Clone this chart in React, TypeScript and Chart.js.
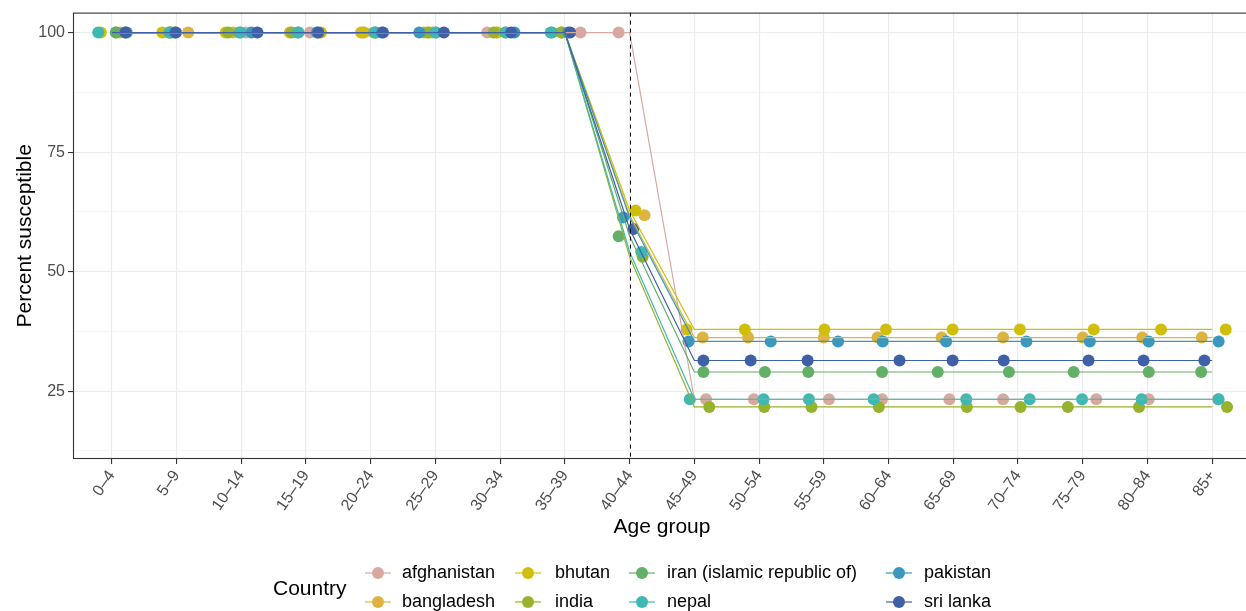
import React, { useEffect, useRef } from "react";
import { Chart, registerables } from "chart.js";

Chart.register(...registerables);

const ageGroups = ["0–4", "5–9", "10–14", "15–19", "20–24", "25–29", "30–34", "35–39", "40–44", "45–49", "50–54", "55–59", "60–64", "65–69", "70–74", "75–79", "80–84", "85+"];
const yTickValues = [12.5, 25, 37.5, 50, 62.5, 75, 87.5, 100];

const countries = ["afghanistan", "bangladesh", "bhutan", "india", "iran (islamic republic of)", "nepal", "pakistan", "sri lanka"];
const countryColors = ["#D8A99E", "#DDB441", "#D1BE08", "#97B22C", "#63AF67", "#3EB8B3", "#3A98BF", "#3F5FA6"];

// percent susceptible by age group
const afghanistanValues = [100, 100, 100, 100, 100, 100, 100, 100, 100, 23.3, 23.3, 23.3, 23.3, 23.3, 23.3, 23.3, 23.3, 23.3];
const bangladeshValues = [100, 100, 100, 100, 100, 100, 100, 100, 61.8, 36.2, 36.2, 36.2, 36.2, 36.2, 36.2, 36.2, 36.2, 36.2];
const bhutanValues = [100, 100, 100, 100, 100, 100, 100, 100, 62.8, 37.9, 37.9, 37.9, 37.9, 37.9, 37.9, 37.9, 37.9, 37.9];
const indiaValues = [100, 100, 100, 100, 100, 100, 100, 100, 53.1, 21.7, 21.7, 21.7, 21.7, 21.7, 21.7, 21.7, 21.7, 21.7];
const iranValues = [100, 100, 100, 100, 100, 100, 100, 100, 57.4, 29.0, 29.0, 29.0, 29.0, 29.0, 29.0, 29.0, 29.0, 29.0];
const nepalValues = [100, 100, 100, 100, 100, 100, 100, 100, 54.1, 23.3, 23.3, 23.3, 23.3, 23.3, 23.3, 23.3, 23.3, 23.3];
const pakistanValues = [100, 100, 100, 100, 100, 100, 100, 100, 61.3, 35.4, 35.4, 35.4, 35.4, 35.4, 35.4, 35.4, 35.4, 35.4];
const sriLankaValues = [100, 100, 100, 100, 100, 100, 100, 100, 58.9, 31.4, 31.4, 31.4, 31.4, 31.4, 31.4, 31.4, 31.4, 31.4];

// horizontal jitter of the points (in age-group units)
const afghanistanJitter = [0.20, -0.12, 0.07, 0.06, -0.10, -0.05, -0.20, 0.24, -0.17, 0.18, -0.08, 0.08, -0.10, -0.06, -0.23, 0.21, 0.02, 0.09];
const bangladeshJitter = [0.13, 0.18, -0.13, -0.25, -0.15, -0.18, -0.06, -0.04, 0.23, 0.13, -0.17, 0.0, -0.17, -0.18, -0.23, 0.0, -0.08, -0.16];
const bhutanJitter = [-0.17, -0.22, -0.24, 0.23, -0.12, -0.10, -0.04, -0.06, 0.09, -0.12, -0.22, 0.01, -0.04, -0.01, 0.03, 0.17, 0.21, 0.21];
const indiaJitter = [0.07, -0.08, -0.20, -0.22, 0.05, -0.12, -0.10, -0.05, 0.20, 0.23, 0.08, -0.19, -0.15, 0.21, 0.04, -0.23, -0.13, 0.23];
const iranJitter = [0.06, -0.10, -0.03, -0.12, 0.08, 0.0, 0.08, -0.20, -0.17, 0.14, 0.09, -0.24, -0.10, -0.24, -0.14, -0.14, 0.02, -0.17];
const nepalJitter = [-0.21, -0.11, -0.01, -0.12, 0.07, 0.01, 0.09, -0.22, 0.18, -0.07, 0.07, -0.23, -0.23, 0.20, 0.18, -0.01, -0.09, 0.10];
const pakistanJitter = [0.23, -0.03, 0.16, 0.17, 0.17, -0.25, 0.22, 0.05, -0.10, -0.09, 0.18, 0.22, -0.09, -0.11, 0.13, 0.11, 0.02, 0.10];
const sriLankaJitter = [0.21, -0.01, 0.25, 0.19, 0.19, 0.13, 0.17, 0.08, 0.06, 0.14, -0.13, -0.25, 0.17, -0.01, -0.22, 0.09, -0.06, -0.12];

const seriesValues = [afghanistanValues, bangladeshValues, bhutanValues, indiaValues, iranValues, nepalValues, pakistanValues, sriLankaValues];
const seriesJitter = [afghanistanJitter, bangladeshJitter, bhutanJitter, indiaJitter, iranJitter, nepalJitter, pakistanJitter, sriLankaJitter];

const cutoffGroup = "40–44";

const FONT = "'Liberation Sans', Arial, Helvetica, sans-serif";
const CANVAS_W = 1262;
const CANVAS_H = 611;
const POINT_R = 6;

const overlayPlugin = {
  id: "overlay",
  afterDatasetsDraw(chart: any) {
    const { ctx, chartArea: a, scales } = chart;
    const xv = scales.x.getPixelForValue(ageGroups.indexOf(cutoffGroup));
    ctx.save();
    ctx.strokeStyle = "#000000";
    ctx.lineWidth = 1;
    ctx.setLineDash([4, 4]);
    ctx.beginPath();
    ctx.moveTo(Math.round(xv) + 0.5, a.top);
    ctx.lineTo(Math.round(xv) + 0.5, a.bottom);
    ctx.stroke();
    ctx.setLineDash([]);
    ctx.strokeStyle = "#333333";
    ctx.lineWidth = 1.1;
    ctx.strokeRect(a.left + 0.5, a.top + 0.5, a.right - a.left - 1, a.bottom - a.top - 1);
    ctx.restore();
  },
  afterDraw(chart: any) {
    const { ctx, chartArea: a } = chart;
    ctx.save();
    ctx.fillStyle = "#000000";
    ctx.font = `21px ${FONT}`;
    ctx.textAlign = "center";
    ctx.textBaseline = "middle";
    ctx.fillText("Age group", (a.left + a.right) / 2, 527);
    ctx.save();
    ctx.translate(25, (a.top + a.bottom) / 2);
    ctx.rotate(-Math.PI / 2);
    ctx.fillText("Percent susceptible", 0, 0);
    ctx.restore();

    // legend
    ctx.textAlign = "left";
    ctx.fillText("Country", 273, 589);
    const keyX = [378, 528, 642, 899];
    const textX = [402, 555, 667, 924];
    const rowY = [573, 602];
    ctx.font = `18px ${FONT}`;
    countries.forEach((name, k) => {
      const col = Math.floor(k / 2);
      const row = k % 2;
      const cx = keyX[col];
      const cy = rowY[row];
      ctx.strokeStyle = countryColors[k];
      ctx.lineWidth = 1.2;
      ctx.beginPath();
      ctx.moveTo(cx - 13, cy);
      ctx.lineTo(cx + 13, cy);
      ctx.stroke();
      ctx.fillStyle = countryColors[k];
      ctx.beginPath();
      ctx.arc(cx, cy, POINT_R, 0, Math.PI * 2);
      ctx.fill();
      ctx.fillStyle = "#000000";
      ctx.fillText(name, textX[col], cy);
    });
    ctx.restore();
  },
};

export default function App() {
  const canvasRef = useRef<HTMLCanvasElement | null>(null);

  useEffect(() => {
    if (!canvasRef.current) return;
    const pointSets = countries.map((name, k) => ({
      label: name,
      type: "scatter" as const,
      data: ageGroups.map((_, i) => ({ x: i + seriesJitter[k][i], y: seriesValues[k][i] })),
      backgroundColor: countryColors[k],
      borderColor: countryColors[k],
      borderWidth: 0,
      pointRadius: POINT_R,
      pointHoverRadius: POINT_R,
      showLine: false,
      order: 100 - k,
    }));
    const lineSets = countries.map((name, k) => ({
      label: name + " line",
      type: "line" as const,
      data: ageGroups.map((_, i) => ({ x: i, y: seriesValues[k][i] })),
      borderColor: countryColors[k],
      backgroundColor: countryColors[k],
      borderWidth: 1.2,
      pointRadius: 0,
      tension: 0,
      fill: false,
      order: 50 - k,
    }));

    const chart = new Chart(canvasRef.current, {
      type: "scatter",
      data: { datasets: [...pointSets, ...lineSets] as any },
      options: {
        animation: false,
        responsive: false,
        devicePixelRatio: 1,
        layout: { padding: { left: 0, top: 12, right: CANVAS_W - 1251, bottom: 0 } },
        plugins: { legend: { display: false }, tooltip: { enabled: false } },
        scales: {
          x: {
            type: "linear",
            min: -0.6,
            max: ageGroups.length - 1 + 0.6,
            afterBuildTicks: (scale: any) => {
              scale.ticks = ageGroups.map((_, i) => ({ value: i }));
            },
            afterFit: (scale: any) => {
              scale.height = 152;
            },
            ticks: {
              autoSkip: false,
              minRotation: 55,
              maxRotation: 55,
              padding: 3,
              color: "#4D4D4D",
              font: { family: FONT, size: 16 },
              callback: (v: any) => ageGroups[Math.round(Number(v))] ?? "",
            },
            grid: {
              color: "#EBEBEB",
              lineWidth: 1.1,
              drawTicks: true,
              tickLength: 5,
              tickColor: "#333333",
              tickWidth: 1.1,
            },
            border: { display: false },
          },
          y: {
            type: "linear",
            min: 10.8,
            max: 104.18,
            afterBuildTicks: (scale: any) => {
              scale.ticks = yTickValues.map((v) => ({ value: v }));
            },
            afterFit: (scale: any) => {
              scale.width = 73;
            },
            ticks: {
              padding: 3,
              color: "#4D4D4D",
              font: { family: FONT, size: 16 },
              callback: (v: any) => (Number(v) % 25 === 0 ? String(v) : ""),
            },
            grid: {
              color: (c: any) => (c.tick && c.tick.value % 25 === 0 ? "#EBEBEB" : "#F4F4F4"),
              lineWidth: (c: any) => (c.tick && c.tick.value % 25 === 0 ? 1.1 : 0.8),
              drawTicks: true,
              tickLength: 5,
              tickColor: (c: any) => (c.tick && c.tick.value % 25 === 0 ? "#333333" : "rgba(0,0,0,0)"),
              tickWidth: 1.1,
            },
            border: { display: false },
          },
        },
      },
      plugins: [overlayPlugin],
    });
    return () => chart.destroy();
  }, []);

  return (
    <div style={{ position: "absolute", left: 0, top: 0, width: 1246, height: CANVAS_H, overflow: "hidden", background: "#ffffff" }}>
      <canvas ref={canvasRef} width={CANVAS_W} height={CANVAS_H} style={{ width: CANVAS_W, height: CANVAS_H, display: "block" }} />
    </div>
  );
}
